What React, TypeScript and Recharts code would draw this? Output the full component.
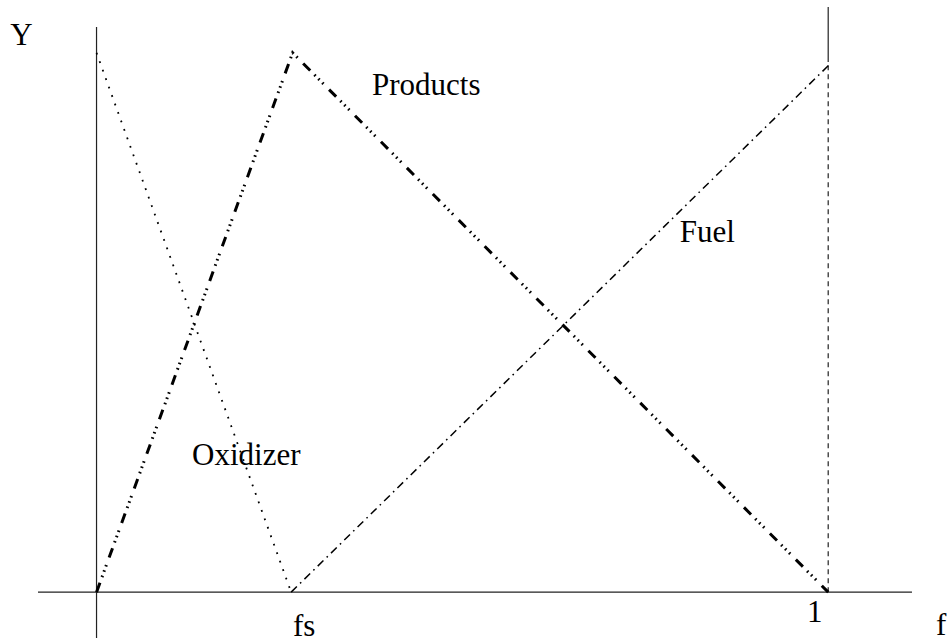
import React from 'react';
import { ComposedChart, Line, XAxis, YAxis, ReferenceLine, ReferenceDot } from 'recharts';

// stoichiometric mixture fraction
const fs = 0.266;

const oxidizerData = [
  { x: 0, y: 1.0 },
  { x: fs, y: 0 },
];
const productsData = [
  { x: 0, y: 0 },
  { x: 0.268, y: 1.0 },
  { x: 1, y: 0 },
];
const fuelData = [
  { x: fs, y: 0 },
  { x: 1, y: 0.976 },
];

const annotations = [
  { text: 'Y', x: -0.118, y: 1.015 },
  { text: 'Products', x: 0.3765, y: 0.922 },
  { text: 'Fuel', x: 0.797, y: 0.649 },
  { text: 'Oxidizer', x: 0.1305, y: 0.236 },
  { text: 'fs', x: 0.2685, y: -0.081 },
  { text: '1', x: 0.971, y: -0.0553 },
  { text: 'f', x: 1.1475, y: -0.0795 },
];

const X_DOMAIN: [number, number] = [-0.08, 1.12];
const Y_DOMAIN: [number, number] = [-0.085, 1.098];

const makeLabel = (text: string) => (props: any) => {
  const vb = props.viewBox || {};
  const x = (vb.x || 0) + (vb.width || 0) / 2;
  const y = (vb.y || 0) + (vb.height || 0) / 2;
  return (
    <text x={x} y={y} fontFamily="'Liberation Serif', 'Times New Roman', serif" fontSize={31} fill="#000" textAnchor="start">
      {text}
    </text>
  );
};

export default function App() {
  return (
    <div style={{ position: 'absolute', left: 0, top: 0, background: '#fff' }}>
      <ComposedChart width={949} height={638} margin={{ top: 0, right: 33, bottom: 0, left: 38 }}>
        <XAxis type="number" dataKey="x" domain={X_DOMAIN} allowDataOverflow hide />
        <YAxis type="number" dataKey="y" domain={Y_DOMAIN} allowDataOverflow hide />
        {/* axes */}
        <ReferenceLine segment={[{ x: 0, y: -0.085 }, { x: 0, y: 1.048 }]} stroke="#222" strokeWidth={1.2} ifOverflow="visible" />
        <ReferenceLine segment={[{ x: -0.08, y: 0 }, { x: 1.1145, y: 0 }]} stroke="#222" strokeWidth={1.2} ifOverflow="visible" />
        <ReferenceLine segment={[{ x: 1, y: 0.983 }, { x: 1, y: 1.085 }]} stroke="#222" strokeWidth={1.2} ifOverflow="visible" />
        <ReferenceLine segment={[{ x: 1, y: 0 }, { x: 1, y: 0.983 }]} stroke="#222" strokeWidth={1.2} strokeDasharray="5 4" ifOverflow="visible" />
        <Line data={oxidizerData} dataKey="y" type="linear" dot={false} activeDot={false} stroke="#000" strokeWidth={1.8} strokeDasharray="1.8 7.2" isAnimationActive={false} />
        <Line data={productsData} dataKey="y" type="linear" dot={false} activeDot={false} stroke="#000" strokeWidth={3} strokeDasharray="10 6 1.6 4 1.6 4 1.6 8" isAnimationActive={false} />
        <Line data={fuelData} dataKey="y" type="linear" dot={false} activeDot={false} stroke="#000" strokeWidth={1.5} strokeDasharray="8 4.5 1.6 4.5" isAnimationActive={false} />
        {annotations.map((a) => (
          <ReferenceDot key={a.text} x={a.x} y={a.y} r={1} fill="none" stroke="none" ifOverflow="visible" label={{ content: makeLabel(a.text) }} />
        ))}
      </ComposedChart>
    </div>
  );
}
